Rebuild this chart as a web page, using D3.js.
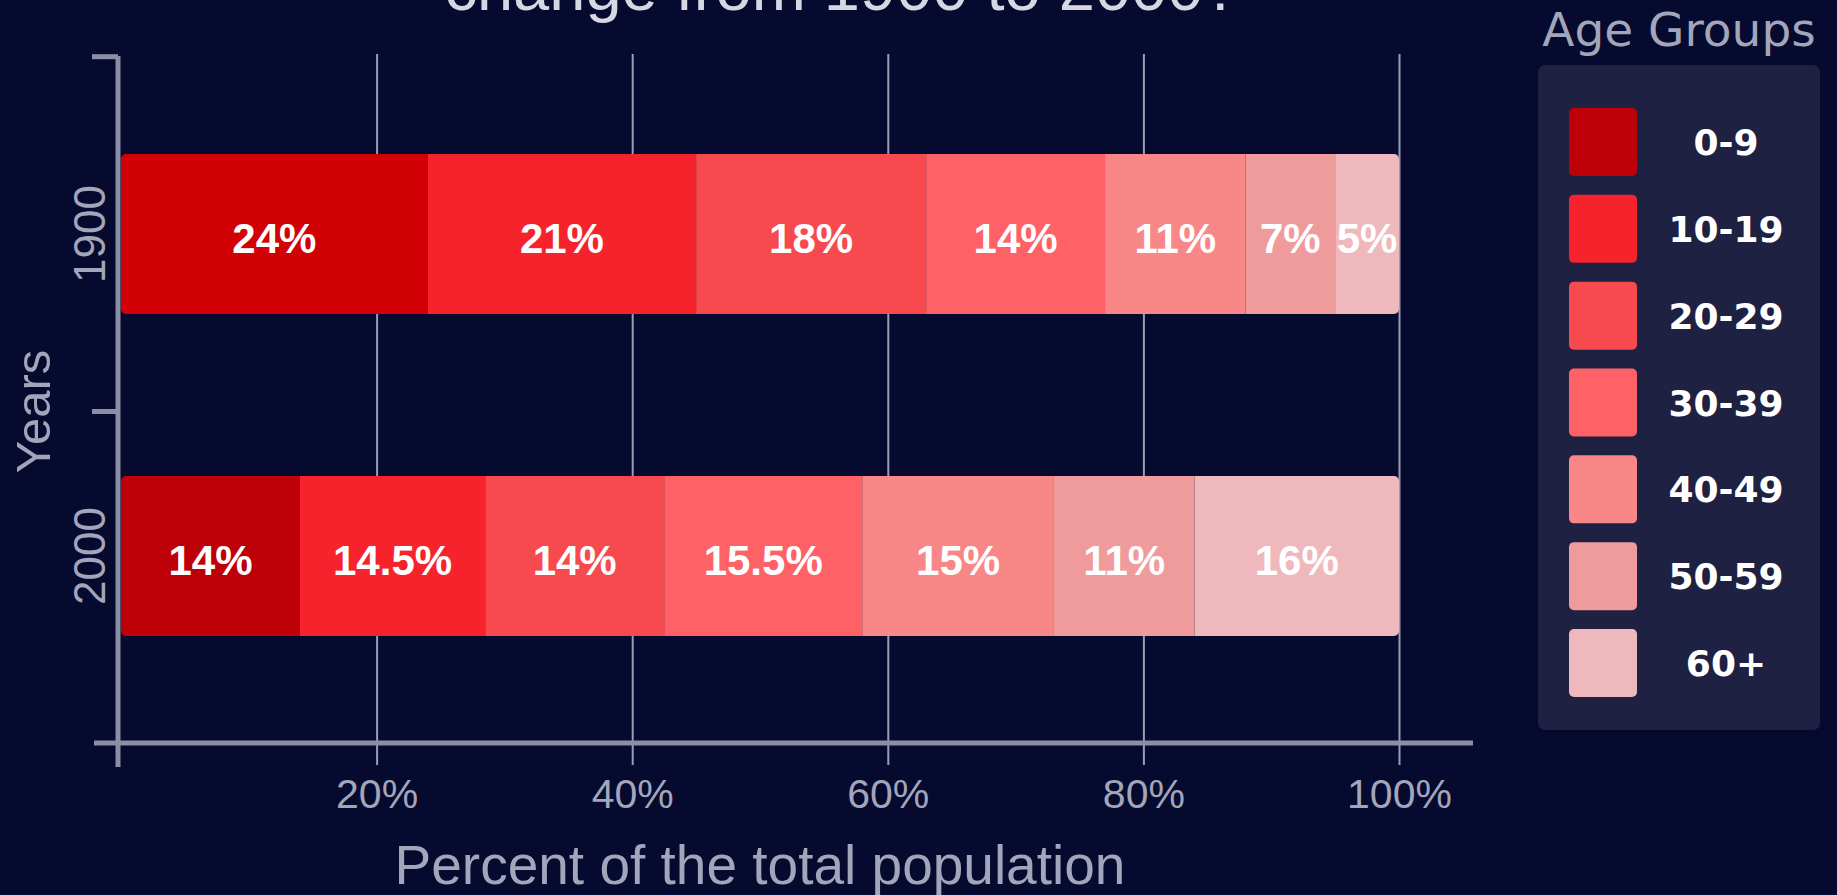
<!DOCTYPE html>
<html>
<head>
<meta charset="utf-8">
<script src="https://cdn.jsdelivr.net/npm/d3@7"></script>
<style>
  html, body { margin: 0; padding: 0; background: #050a2e; overflow: hidden; }
  svg { display: block; }
</style>
</head>
<body>
<div id="chart"></div>
<script>
const years = ["1900", "2000"];
const ageGroups = ["0-9", "10-19", "20-29", "30-39", "40-49", "50-59", "60+"];
const share1900 = [24, 21, 18, 14, 11, 7, 5];
const share2000 = [14, 14.5, 14, 15.5, 15, 11, 16];
const xTicks = [20, 40, 60, 80, 100];
const groupColors = ["#be0009", "#f6232c", "#f74a4f", "#fe6266", "#f98787", "#ef9b9c", "#efb8bd"];

const width = 1837, height = 895;
const axisColor = "#8b8ea5", textColor = "#a3a5ba";
const sans = "'Liberation Sans', Arial, sans-serif";
const round = "'DejaVu Sans', sans-serif";

const rows = years.map((year, i) => {
  const vals = [share1900, share2000][i];
  const r = {year};
  ageGroups.forEach((g, j) => r[g] = vals[j]);
  return r;
});
const series = d3.stack().keys(ageGroups)(rows);

const svg = d3.select("#chart").append("svg")
  .attr("width", width)
  .attr("height", height);

const x = d3.scaleLinear().domain([0, 100]).range([121, 1399]);
const y = d3.scaleBand().domain(years).range([73.5, 716.5])
  .paddingInner(0.503).paddingOuter(0.25);
const color = d3.scaleOrdinal().domain(ageGroups).range(groupColors);

const axisY = 743, frameTop = 56, frameBottom = 767;

// title (first line sits above the visible area)
svg.append("text")
  .attr("x", 842).attr("y", 10)
  .attr("text-anchor", "middle")
  .style("font-family", sans).style("font-size", "65px")
  .style("fill", "#d6d7e2")
  .text("change from 1900 to 2000?");

// x axis ticks, stretched up into grid lines
const gX = svg.append("g")
  .attr("transform", `translate(0,${axisY})`)
  .call(d3.axisBottom(x).tickValues(xTicks).tickSize(22).tickFormat(d => d + "%"));
gX.select(".domain").remove();
gX.selectAll(".tick line")
  .attr("y1", frameTop - 2 - axisY)
  .attr("stroke", "#9a9db2")
  .attr("stroke-width", 2);
gX.selectAll(".tick text")
  .attr("dy", null).attr("y", 65)
  .style("font-family", sans).style("font-size", "41px")
  .style("fill", textColor);

// bars
const defs = svg.append("defs");
years.forEach(year => {
  defs.append("clipPath").attr("id", "clip-" + year)
    .append("rect")
    .attr("x", x(0)).attr("y", y(year))
    .attr("width", x(100) - x(0)).attr("height", y.bandwidth())
    .attr("rx", 5);
});

const bars = svg.selectAll(".bar")
  .data(years)
  .enter().append("g")
  .attr("class", "bar")
  .attr("clip-path", year => `url(#clip-${year})`);

bars.selectAll("rect")
  .data((year, i) => series.map(s => ({key: s.key, year, d: s[i]})))
  .enter().append("rect")
  .attr("x", p => x(p.d[0]))
  .attr("y", p => y(p.year))
  .attr("width", p => x(p.d[1]) - x(p.d[0]))
  .attr("height", y.bandwidth())
  .attr("fill", p => (p.year === "1900" && p.key === "0-9") ? "#d20106" : color(p.key));

svg.selectAll(".bar-label")
  .data(series.flatMap(s => s.map((d, i) => ({key: s.key, year: years[i], d}))))
  .enter().append("text")
  .attr("class", "bar-label")
  .attr("x", p => (x(p.d[0]) + x(p.d[1])) / 2)
  .attr("y", p => y(p.year) + y.bandwidth() / 2 + 19)
  .attr("text-anchor", "middle")
  .style("font-family", sans).style("font-size", "42px").style("font-weight", "bold")
  .style("fill", "#ffffff")
  .text(p => (p.d[1] - p.d[0]) + "%");

// axis frame
svg.append("line")
  .attr("x1", x(0) - 27).attr("x2", x(100) + 74)
  .attr("y1", axisY).attr("y2", axisY)
  .attr("stroke", axisColor).attr("stroke-width", 5);

const yAxisX = x(0) - 3;
svg.append("line")
  .attr("x1", yAxisX).attr("x2", yAxisX)
  .attr("y1", frameTop).attr("y2", frameBottom)
  .attr("stroke", axisColor).attr("stroke-width", 5);
[frameTop + 0.7, (frameTop + frameBottom) / 2].forEach(t => {
  svg.append("line")
    .attr("x1", yAxisX - 26).attr("x2", yAxisX)
    .attr("y1", t).attr("y2", t)
    .attr("stroke", axisColor).attr("stroke-width", 5);
});

const gY = svg.append("g")
  .attr("transform", `translate(${yAxisX},0)`)
  .call(d3.axisLeft(y).tickSize(0));
gY.select(".domain").remove();
gY.selectAll(".tick text")
  .attr("x", 0).attr("y", -13).attr("dy", null)
  .attr("transform", "rotate(-90)")
  .attr("text-anchor", "middle")
  .style("font-family", sans).style("font-size", "44px")
  .style("fill", textColor);

// axis titles
svg.append("text")
  .attr("x", (x(0) + x(100)) / 2).attr("y", 884)
  .attr("text-anchor", "middle")
  .style("font-family", sans).style("font-size", "55px")
  .style("fill", textColor)
  .text("Percent of the total population");

svg.append("text")
  .attr("transform", `translate(50,${(frameTop + frameBottom) / 2}) rotate(-90)`)
  .attr("text-anchor", "middle")
  .style("font-family", sans).style("font-size", "49px")
  .style("fill", textColor)
  .text("Years");

// legend
const legend = svg.append("g");
legend.append("text")
  .attr("x", 1679).attr("y", 46)
  .attr("text-anchor", "middle")
  .style("font-family", round).style("font-size", "47px")
  .style("fill", textColor)
  .text("Age Groups");

legend.append("rect")
  .attr("x", 1538).attr("y", 65)
  .attr("width", 282).attr("height", 665)
  .attr("rx", 7)
  .attr("fill", "#1f2142");

const ly = d3.scaleBand().domain(ageGroups).range([108, 697]).paddingInner(0.2166);

const items = legend.selectAll(".item")
  .data(ageGroups)
  .enter().append("g")
  .attr("class", "item");
items.append("rect")
  .attr("x", 1569).attr("y", g => ly(g))
  .attr("width", 68).attr("height", ly.bandwidth())
  .attr("rx", 5)
  .attr("fill", g => color(g));
items.append("text")
  .attr("x", 1726).attr("y", g => ly(g) + ly.bandwidth() / 2 + 13)
  .attr("text-anchor", "middle")
  .style("font-family", round).style("font-size", "36px").style("font-weight", "bold")
  .style("fill", "#ffffff")
  .text(g => g);
</script>
</body>
</html>
